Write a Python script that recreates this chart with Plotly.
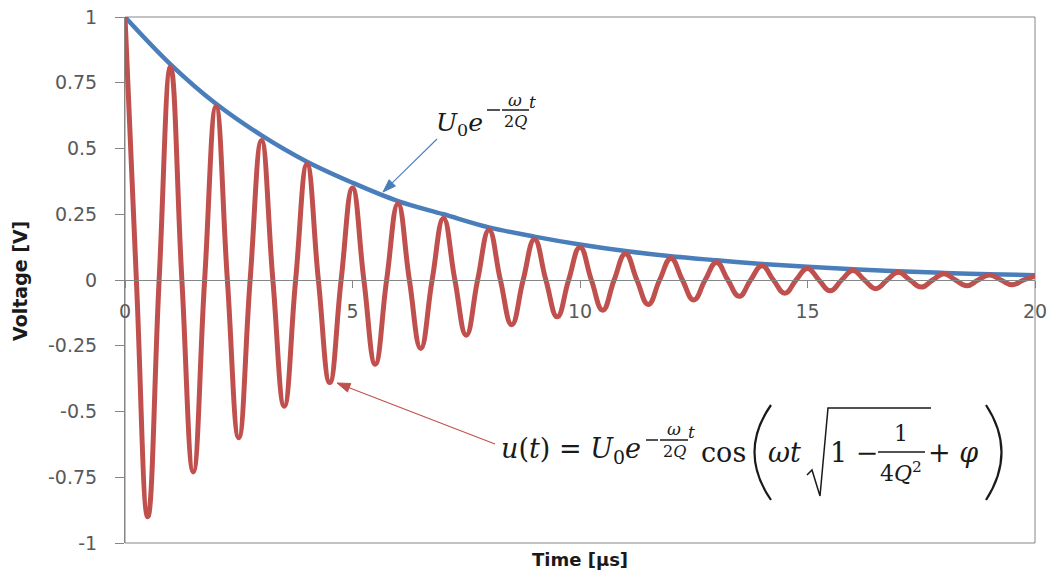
import math
import plotly.graph_objects as go

# ---------------- data ----------------
# envelope U0*exp(-w t / 2Q)  (values read at integer microseconds)
env_times = [0, 1, 2, 3, 4, 5, 6, 7, 8, 9, 10, 11, 12, 13, 14, 15, 16, 17, 18, 19, 20]
env_vals = [1.0, 0.82, 0.67, 0.55, 0.45, 0.37, 0.30, 0.25, 0.20, 0.165, 0.135,
            0.11, 0.09, 0.075, 0.061, 0.05, 0.041, 0.033, 0.027, 0.022, 0.018]

# damped oscillation: maxima, minima and zero crossings
peak_times = [0, 1, 2, 3, 4, 5, 6, 7, 8, 9, 10, 11, 12, 13, 14, 15, 16, 17, 18, 19, 20]
peak_vals = [1.0, 0.81, 0.66, 0.53, 0.44, 0.35, 0.29, 0.235, 0.19, 0.155, 0.125,
             0.10, 0.082, 0.067, 0.054, 0.044, 0.036, 0.029, 0.024, 0.019, 0.015]
trough_times = [0.5, 1.5, 2.5, 3.5, 4.5, 5.5, 6.5, 7.5, 8.5, 9.5, 10.5, 11.5, 12.5,
                13.5, 14.5, 15.5, 16.5, 17.5, 18.5, 19.5]
trough_vals = [-0.90, -0.73, -0.60, -0.48, -0.39, -0.32, -0.26, -0.21, -0.17, -0.14,
               -0.115, -0.093, -0.076, -0.062, -0.05, -0.041, -0.033, -0.027, -0.022, -0.018]
zero_times = [0.25, 0.75, 1.25, 1.75, 2.25, 2.75, 3.25, 3.75, 4.25, 4.75, 5.25, 5.75,
              6.25, 6.75, 7.25, 7.75, 8.25, 8.75, 9.25, 9.75, 10.25, 10.75, 11.25, 11.75,
              12.25, 12.75, 13.25, 13.75, 14.25, 14.75, 15.25, 15.75, 16.25, 16.75,
              17.25, 17.75, 18.25, 18.75, 19.25, 19.75]
zero_vals = [0.0] * len(zero_times)

y_ticks = [1, 0.75, 0.5, 0.25, 0, -0.25, -0.5, -0.75, -1]
y_tick_labels = ["1", "0.75", "0.5", "0.25", "0", "-0.25", "-0.5", "-0.75", "-1"]
x_ticks = [0, 5, 10, 15, 20]
x_tick_labels = ["0", "5", "10", "15", "20"]

# assemble oscillation points in time order
pts = sorted(list(zip(peak_times, peak_vals)) + list(zip(trough_times, trough_vals))
             + list(zip(zero_times, zero_vals)))
osc_t = [p[0] for p in pts]
osc_v = [p[1] for p in pts]

# ---------------- figure ----------------
W, H = 1051, 573
PL, PR, PT, PB = 125, 1035, 17, 543


def px(x):
    return (x - PL) / (PR - PL)


def py(y):
    return (PB - y) / (PB - PT)


BLUE = "#4A7EBB"
RED = "#C0504D"
AXIS = "#868686"
TXT = "#595959"
FORM = "#1a1a1a"

fig = go.Figure()
fig.add_trace(go.Scatter(x=env_times, y=env_vals, mode="lines",
                         line=dict(color=BLUE, width=4.5, shape="spline"),
                         hoverinfo="skip", showlegend=False))
fig.add_trace(go.Scatter(x=osc_t, y=osc_v, mode="lines",
                         line=dict(color=RED, width=5, shape="spline", smoothing=1.3),
                         hoverinfo="skip", showlegend=False))

shapes = []
annotations = []


def text(s, x, y, size, xanchor="left", family="DejaVu Serif"):
    annotations.append(dict(text=s, x=px(x), y=py(y), xref="paper", yref="paper",
                            xanchor=xanchor, yanchor="middle", showarrow=False,
                            font=dict(family=family, size=size, color=FORM)))


def line(x0, y0, x1, y1, w=1.3, color=FORM):
    shapes.append(dict(type="line", xref="paper", yref="paper",
                       x0=px(x0), y0=py(y0), x1=px(x1), y1=py(y1),
                       line=dict(color=color, width=w)))


def path(points, w=1.5, curve=False):
    if curve:
        (a, b), (c, d), (e, f) = points
        p = f"M {px(a)} {py(b)} Q {px(c)} {py(d)} {px(e)} {py(f)}"
    else:
        p = "M " + " L ".join(f"{px(a)} {py(b)}" for a, b in points)
    shapes.append(dict(type="path", xref="paper", yref="paper", path=p,
                       line=dict(color=FORM, width=w)))


def arrow(tip, tail, color, head_len=13, head_half=4.5):
    tx, ty = tip
    sx, sy = tail
    d = math.hypot(sx - tx, sy - ty)
    ux, uy = (sx - tx) / d, (sy - ty) / d
    bx, by = tx + head_len * ux, ty + head_len * uy
    line(sx, sy, bx, by, w=1.1, color=color)
    c1 = (bx - head_half * uy, by + head_half * ux)
    c2 = (bx + head_half * uy, by - head_half * ux)
    p = (f"M {px(tx)} {py(ty)} L {px(c1[0])} {py(c1[1])} "
         f"L {px(c2[0])} {py(c2[1])} Z")
    shapes.append(dict(type="path", xref="paper", yref="paper", path=p,
                       fillcolor=color, line=dict(color=color, width=1)))


# plot area border
shapes.append(dict(type="rect", xref="paper", yref="paper", x0=0, y0=0, x1=1, y1=1,
                   line=dict(color=AXIS, width=1), layer="below"))

# ---- blue label: U0 e^{-w/2Q t}
text("<i>U</i><sub>0</sub><i>e</i>", 434, 124, 25)
line(487, 110, 500, 110, w=1.5)
line(502, 110, 529, 110, w=1.5)
text("<i>ω</i>", 515, 100, 17, "center")
text("2<i>Q</i>", 515, 121, 16, "center")
text("<i>t</i>", 527, 102, 17)
arrow((383, 192), (437, 139), BLUE)

# ---- red label: u(t) = U0 e^{-w/2Q t} cos( wt sqrt(1 - 1/4Q^2) + phi )
text("<i>u</i>(<i>t</i>) = <i>U</i><sub>0</sub><i>e</i>", 499, 450, 27)
line(646, 440, 658, 440, w=1.5)
line(660, 440, 688, 440, w=1.5)
text("<i>ω</i>", 674, 429, 17, "center")
text("2<i>Q</i>", 674, 451, 16, "center")
text("<i>t</i>", 686, 432, 17)
text("cos", 699, 452, 27)
path([(771, 405), (738, 452), (771, 500)], w=2.2, curve=True)
text("<i>ωt</i>", 766, 452, 27)
path([(807, 475), (812, 470), (820, 496), (828, 408), (931, 408)], w=1.5)
text("1 −", 828, 452, 27)
text("1", 901, 433, 22, "center")
line(878, 452, 925, 452, w=1.5)
text("4<i>Q</i><sup>2</sup>", 901, 472, 22, "center")
text("+ <i>φ</i>", 926, 452, 27)
path([(986, 405), (1017, 452), (986, 500)], w=2.2, curve=True)
arrow((337, 383), (495, 444), RED)

# ---- axis titles
annotations.append(dict(text="<b>Voltage [V]</b>", x=px(20), y=py(281), xref="paper",
                        yref="paper", textangle=-90, showarrow=False,
                        xanchor="center", yanchor="middle",
                        font=dict(family="DejaVu Sans", size=19, color="#1a1a1a")))
annotations.append(dict(text="<b>Time [µs]</b>", x=px(580), y=py(559), xref="paper",
                        yref="paper", showarrow=False, xanchor="center", yanchor="middle",
                        font=dict(family="DejaVu Sans", size=18, color="#1a1a1a")))

fig.update_layout(
    width=W, height=H,
    margin=dict(l=PL, r=W - PR, t=PT, b=H - PB, autoexpand=False),
    paper_bgcolor="white", plot_bgcolor="white",
    shapes=shapes, annotations=annotations,
    xaxis=dict(range=[0, 20], tickvals=x_ticks, ticktext=x_tick_labels,
               anchor="free", position=0.5, showline=True, linecolor=AXIS, linewidth=1,
               ticks="outside", ticklen=7, tickcolor=AXIS, showgrid=False, zeroline=False,
               ticklabelstandoff=7, automargin=False,
               tickfont=dict(family="DejaVu Sans", size=19, color=TXT)),
    yaxis=dict(range=[-1, 1], tickvals=y_ticks, ticktext=y_tick_labels,
               showline=True, linecolor=AXIS, linewidth=1, ticks="outside", ticklen=9,
               tickcolor=AXIS, showgrid=False, zeroline=False, ticklabelstandoff=14,
               automargin=False,
               tickfont=dict(family="DejaVu Sans", size=19, color=TXT)),
)

fig.write_html("out.html", config=dict(displayModeBar=False),
               post_script="document.body.style.margin='0';")
